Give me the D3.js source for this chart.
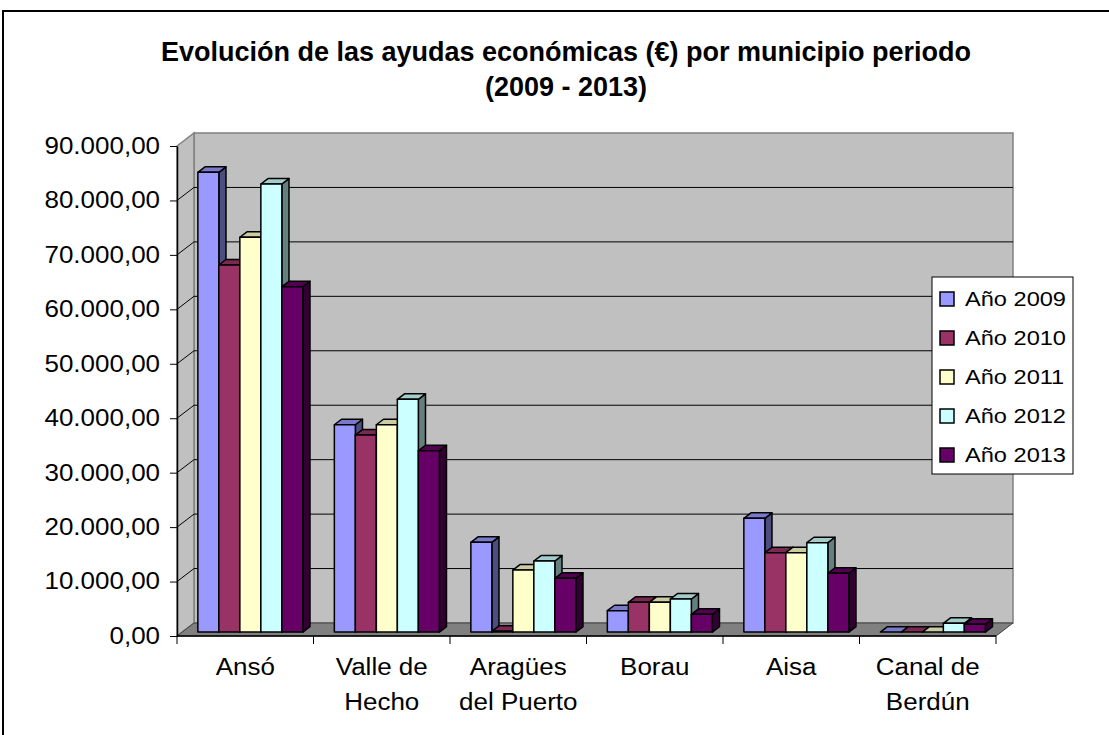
<!DOCTYPE html>
<html lang="es">
<head>
<meta charset="UTF-8">
<title>Evolución de las ayudas económicas</title>
<script src="https://cdn.jsdelivr.net/npm/d3@7"></script>
<style>
    html, body { margin: 0; background: #fff; }
    svg text { font-family: "Liberation Sans", Arial, sans-serif; fill: #000; }
</style>
</head>
<body>
<div class="chart"></div>
<script>

    // data
    var categories = ["Ansó", "Valle de Hecho", "Aragües del Puerto", "Borau", "Aisa", "Canal de Berdún"];
    var categoryLines = [["Ansó"], ["Valle de", "Hecho"], ["Aragües", "del Puerto"], ["Borau"], ["Aisa"], ["Canal de", "Berdún"]];
    var years = ["Año 2009", "Año 2010", "Año 2011", "Año 2012", "Año 2013"];
    var colors = ["#9999FF", "#993366", "#FFFFCC", "#CCFFFF", "#660066"];

    var v2009 = [84450, 38090, 16490, 3930, 20900, 0];
    var v2010 = [67430, 36200, 150, 5470, 14580, 0];
    var v2011 = [72520, 38090, 11400, 5470, 14580, 0];
    var v2012 = [82300, 42760, 13060, 6080, 16420, 1620];
    var v2013 = [63440, 33320, 9880, 3270, 10800, 1430];
    var series = [v2009, v2010, v2011, v2012, v2013];

    var yTicks = [0, 10000, 20000, 30000, 40000, 50000, 60000, 70000, 80000, 90000];

    var width = 1109, height = 735;
    var DX = 17, DY = 13;           // depth offset of the back wall
    var zFront = 0.3, zBack = 0.72; // bar depth range
    var pLeft = 177, pRight = 996, pTop = 146, pBottom = 636;

    var es = d3.formatLocale({decimal: ",", thousands: ".", grouping: [3], currency: ["", "€"]});
    var fmt = es.format(",.2f");

    var x0 = d3.scaleBand().domain(categories).range([pLeft, pRight]).padding(0);
    var x1 = d3.scaleBand().domain(years).range([0, x0.bandwidth()]).paddingInner(0).paddingOuter(0.75);
    var y = d3.scaleLinear().domain([0, 90000]).range([pBottom, pTop]);

    function px(x, z) { return x + z * DX; }
    function py(yy, z) { return yy - z * DY; }
    function pts(a) { return a.map(function (p) { return p.join(","); }).join(" "); }
    function shade(c, k) {
        var r = d3.rgb(c);
        return d3.rgb(r.r * k, r.g * k, r.b * k).formatHex();
    }

    var svg = d3.select(".chart").append("svg").attr("width", width).attr("height", height);

    // outer chart border
    svg.append("rect").attr("x", 3).attr("y", 11).attr("width", 1130).attr("height", 760)
        .attr("fill", "#fff").attr("stroke", "#000").attr("stroke-width", 2);

    // title
    var title = svg.append("text").attr("text-anchor", "middle")
        .style("font-size", "27px").style("font-weight", "bold");
    title.append("tspan").attr("x", 566).attr("y", 61).text("Evolución de las ayudas económicas (€) por municipio periodo");
    title.append("tspan").attr("x", 566).attr("y", 96).text("(2009 - 2013)");

    // walls and floor
    var yMax = y(90000), y0 = y(0);
    svg.append("polygon")
        .attr("points", pts([[px(pLeft, 1), py(yMax, 1)], [px(pRight, 1), py(yMax, 1)], [px(pRight, 1), py(y0, 1)], [px(pLeft, 1), py(y0, 1)]]))
        .attr("fill", "#C0C0C0").attr("stroke", "#808080").attr("stroke-width", 1.5);
    svg.append("polygon")
        .attr("points", pts([[pLeft, yMax], [px(pLeft, 1), py(yMax, 1)], [px(pLeft, 1), py(y0, 1)], [pLeft, y0]]))
        .attr("fill", "#C0C0C0").attr("stroke", "#808080").attr("stroke-width", 1.5);
    svg.append("polygon")
        .attr("points", pts([[pLeft, y0], [pRight, y0], [px(pRight, 1), py(y0, 1)], [px(pLeft, 1), py(y0, 1)]]))
        .attr("fill", "#808080").attr("stroke", "#404040").attr("stroke-width", 1);

    // gridlines on back and side wall
    var grid = svg.append("g").attr("fill", "none").attr("stroke", "#000").attr("stroke-width", 1);
    grid.selectAll("polyline").data(yTicks.slice(1, -1)).enter().append("polyline")
        .attr("points", function (d) {
            return pts([[pLeft, y(d)], [px(pLeft, 1), py(y(d), 1)], [px(pRight, 1), py(y(d), 1)]]);
        });

    // bars
    var bars = svg.append("g").attr("stroke", "#000").attr("stroke-width", 1.5).attr("stroke-linejoin", "round");
    categories.forEach(function (c, ci) {
        years.forEach(function (yr, si) {
            var v = series[si][ci];
            var xl = x0(c) + x1(yr), xr = xl + x1.bandwidth();
            var yt = y(v), yb = y(0);
            var col = colors[si];
            var g = bars.append("g");
            g.append("polygon").attr("fill", shade(col, 0.5))
                .attr("points", pts([[px(xr, zFront), py(yt, zFront)], [px(xr, zBack), py(yt, zBack)], [px(xr, zBack), py(yb, zBack)], [px(xr, zFront), py(yb, zFront)]]));
            g.append("polygon").attr("fill", shade(col, 0.8))
                .attr("points", pts([[px(xl, zFront), py(yt, zFront)], [px(xr, zFront), py(yt, zFront)], [px(xr, zBack), py(yt, zBack)], [px(xl, zBack), py(yt, zBack)]]));
            if (yb - yt > 0.5) {
                g.append("rect").attr("fill", col)
                    .attr("x", px(xl, zFront)).attr("y", py(yt, zFront))
                    .attr("width", x1.bandwidth()).attr("height", yb - yt);
            }
        });
    });

    // y axis (front edge)
    var yAxis = d3.axisLeft(y).tickValues(yTicks).tickFormat(fmt).tickSize(7).tickSizeOuter(0).tickPadding(8);
    var ya = svg.append("g").attr("transform", "translate(" + pLeft + ",0)").call(yAxis);
    ya.select(".domain").attr("stroke", "#000").attr("stroke-width", 1.5);
    ya.selectAll(".tick line").attr("stroke", "#000");
    ya.selectAll(".tick text").style("font-size", "23px").attr("fill", "#000")
        .attr("transform", "scale(1.13,1)");

    // x axis (front floor edge)
    var xa = svg.append("g");
    xa.append("line").attr("x1", pLeft).attr("x2", pRight).attr("y1", pBottom).attr("y2", pBottom)
        .attr("stroke", "#000").attr("stroke-width", 1.5);
    var bounds = categories.map(function (c) { return x0(c); }).concat([pRight]);
    xa.selectAll(".xt").data(bounds).enter().append("line").attr("class", "xt")
        .attr("x1", function (d) { return d; }).attr("x2", function (d) { return d; })
        .attr("y1", pBottom).attr("y2", pBottom + 8).attr("stroke", "#000");
    var labels = xa.selectAll(".xl").data(categories).enter().append("text").attr("class", "xl")
        .attr("text-anchor", "middle").style("font-size", "23px")
        .attr("transform", function (d) { return "translate(" + (x0(d) + x0.bandwidth() / 2) + ",675) scale(1.13,1)"; });
    labels.selectAll("tspan").data(function (d, i) { return categoryLines[i]; }).enter().append("tspan")
        .attr("x", 0).attr("y", function (d, i) { return i * 35; }).text(function (d) { return d; });

    // legend
    var lg = svg.append("g");
    lg.append("rect").attr("x", 932).attr("y", 277).attr("width", 141).attr("height", 197)
        .attr("fill", "#fff").attr("stroke", "#000").attr("stroke-width", 1);
    var items = lg.selectAll(".li").data(years).enter().append("g").attr("class", "li")
        .attr("transform", function (d, i) { return "translate(940," + (299 + i * 39) + ")"; });
    items.append("rect").attr("x", 0).attr("y", -7).attr("width", 14).attr("height", 14)
        .attr("fill", function (d, i) { return colors[i]; }).attr("stroke", "#000").attr("stroke-width", 1.5);
    items.append("text").attr("transform", "translate(25,7) scale(1.18,1)")
        .style("font-size", "20px").text(function (d) { return d; });

</script>
</body>
</html>
